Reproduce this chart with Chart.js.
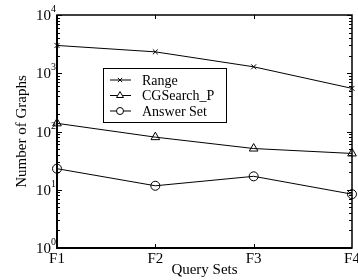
<!DOCTYPE html>
<html lang="en">
<head>
<meta charset="UTF-8">
<title>Number of Graphs per Query Set</title>
<style>
    html, body { margin: 0; padding: 0; background: #fff; }
    #wrap { width: 358px; height: 280px; }
</style>
<script src="https://cdn.jsdelivr.net/npm/chart.js"></script>
</head>
<body>
<div id="wrap"><canvas id="chart" width="358" height="280"></canvas></div>
<script>
    const querySets = ['F1', 'F2', 'F3', 'F4'];
    const rangeValues = [3000, 2330, 1290, 550];
    const cgsearchValues = [138, 80, 51, 42];
    const answerValues = [23, 11.7, 17, 8.4];
    const decadeTicks = [1, 10, 100, 1000, 10000];

    const SERIF = '"Liberation Serif", "Times New Roman", serif';

    const seriesStyles = [
        { label: 'Range', data: rangeValues, pointStyle: 'crossRot', radius: 3.5, legendRadius: 3 },
        { label: 'CGSearch_P', data: cgsearchValues, pointStyle: 'triangle', radius: 5, legendRadius: 4 },
        { label: 'Answer Set', data: answerValues, pointStyle: 'circle', radius: 4.5, legendRadius: 3.5 }
    ];

    // frame, inward ticks, tick labels with exponents, axis titles and the boxed legend
    const decorations = {
        id: 'decorations',
        afterDraw(chart) {
            const ctx = chart.ctx;
            const a = chart.chartArea;
            const y = chart.scales.y;
            const x = chart.scales.x;
            ctx.save();
            ctx.strokeStyle = '#000';
            ctx.lineWidth = 1;
            ctx.beginPath();
            for (let d = 0; d < 4; d++) {
                for (let m = 1; m <= 10; m++) {
                    const v = Math.pow(10, d) * m;
                    const py = Math.round(y.getPixelForValue(v)) + 0.5;
                    const len = (m === 1 || m === 10) ? 5 : 3;
                    ctx.moveTo(a.left, py); ctx.lineTo(a.left + len, py);
                    ctx.moveTo(a.right, py); ctx.lineTo(a.right - len, py);
                }
            }
            for (let i = 1; i < querySets.length - 1; i++) {
                const px = Math.round(x.getPixelForValue(i)) + 0.5;
                ctx.moveTo(px, a.bottom); ctx.lineTo(px, a.bottom - 4);
                ctx.moveTo(px, a.top); ctx.lineTo(px, a.top + 4);
            }
            ctx.stroke();

            ctx.lineWidth = 1.5;
            ctx.strokeRect(a.left, a.top, a.right - a.left, a.bottom - a.top);
            ctx.lineWidth = 2;
            ctx.beginPath();
            ctx.moveTo(a.left, a.top); ctx.lineTo(a.left, a.bottom); ctx.lineTo(a.right, a.bottom);
            ctx.stroke();

            // y tick labels 10^n
            ctx.fillStyle = '#000';
            ctx.textBaseline = 'alphabetic';
            decadeTicks.forEach(v => {
                const py = y.getPixelForValue(v);
                const exp = String(Math.round(Math.log10(v)));
                ctx.font = '10px ' + SERIF;
                const ew = ctx.measureText(exp).width;
                ctx.textAlign = 'left';
                ctx.fillText(exp, a.left - 1 - ew, py - 3);
                ctx.font = '15px ' + SERIF;
                ctx.textAlign = 'right';
                ctx.fillText('10', a.left - 1 - ew, py + 5);
            });

            // x tick labels
            ctx.font = '15px ' + SERIF;
            ctx.textAlign = 'center';
            querySets.forEach((q, i) => {
                ctx.fillText(q, x.getPixelForValue(i), 263);
            });

            // axis titles
            ctx.fillText('Query Sets', (a.left + a.right) / 2, 274);
            ctx.save();
            ctx.translate(26, (a.top + a.bottom) / 2);
            ctx.rotate(-Math.PI / 2);
            ctx.fillText('Number of Graphs', 0, 0);
            ctx.restore();

            // legend
            const lx = 103, ly = 68, lw = 123, lh = 54;
            ctx.fillStyle = '#fff';
            ctx.fillRect(lx, ly, lw, lh);
            ctx.lineWidth = 1;
            ctx.strokeRect(lx + 0.5, ly + 0.5, lw, lh);
            ctx.font = '14px ' + SERIF;
            ctx.textAlign = 'left';
            ctx.textBaseline = 'middle';
            seriesStyles.forEach((s, i) => {
                const ey = ly + 12 + i * 15.5;
                ctx.beginPath();
                ctx.moveTo(lx + 7, ey); ctx.lineTo(lx + 28, ey);
                ctx.strokeStyle = '#000';
                ctx.stroke();
                ctx.fillStyle = '#fff';
                Chart.helpers.drawPoint(ctx, {
                    pointStyle: s.pointStyle, radius: s.legendRadius, rotation: 0, borderWidth: 1
                }, lx + 17, ey);
                ctx.fillStyle = '#000';
                ctx.fillText(s.label, lx + 39, ey + 1);
            });
            ctx.restore();
        }
    };

    new Chart(document.getElementById('chart'), {
        type: 'line',
        data: {
            labels: querySets,
            datasets: seriesStyles.map(s => ({
                label: s.label,
                data: s.data,
                borderColor: '#000',
                borderWidth: 1,
                backgroundColor: 'transparent',
                pointStyle: s.pointStyle,
                pointRadius: s.radius,
                pointBorderColor: '#000',
                pointBorderWidth: 1,
                pointBackgroundColor: 'transparent',
                tension: 0
            }))
        },
        options: {
            responsive: false,
            animation: false,
            layout: { padding: { top: 15, right: 6, left: 0, bottom: 0 } },
            plugins: { legend: { display: false }, tooltip: { enabled: false } },
            scales: {
                x: {
                    type: 'category',
                    offset: false,
                    grid: { display: false },
                    border: { display: false },
                    ticks: { display: false },
                    afterFit(s) { s.height = 32; }
                },
                y: {
                    type: 'logarithmic',
                    min: 1,
                    max: 10000,
                    grid: { display: false },
                    border: { display: false },
                    ticks: { display: false },
                    afterFit(s) { s.width = 57; }
                }
            }
        },
        plugins: [decorations]
    });
</script>
</body>
</html>
